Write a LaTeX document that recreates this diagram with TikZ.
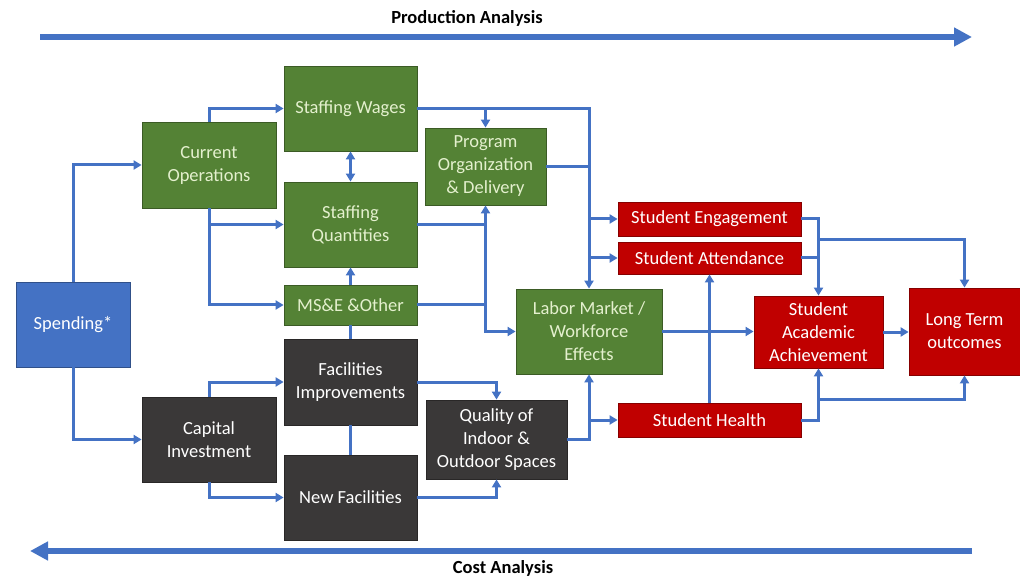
\documentclass[tikz,border=0pt]{standalone}
\usepackage{fontspec}
\setmainfont{Carlito}
\usetikzlibrary{arrows.meta}
\definecolor{cgreen}{RGB}{84,130,53}
\definecolor{gtext}{RGB}{228,240,206}
\definecolor{cdark}{RGB}{58,56,56}
\definecolor{cred}{RGB}{192,0,0}
\definecolor{cblue}{RGB}{68,114,196}
\begin{document}
\begin{tikzpicture}[x=1pt,y=-1pt,
  box/.style={line width=0.8pt, inner sep=2pt, align=center, font=\fontsize{18.5}{23}\selectfont},
  gbox/.style={box, fill=cgreen, draw=cgreen!70!black, text=gtext},
  dbox/.style={box, fill=cdark, draw=cdark!70!black, text=white},
  rbox/.style={box, fill=cred, draw=cred!70!black, text=white},
  bbox/.style={box, fill=cblue, draw=cblue!70!black, text=white},
  conn/.style={draw=cblue, line width=3pt, -{Triangle[length=8pt,width=9pt]}},
  plain/.style={draw=cblue, line width=3pt},
  big/.style={draw=cblue, line width=6pt, -{Triangle[length=18pt,width=18pt]}},
  head/.style={font=\fontsize{18.5}{20}\selectfont\bfseries, text=black}]
\useasboundingbox (0,0) rectangle (1020,577);
\fill[white] (0,0) rectangle (1020,577);
% nodes
\node[bbox, minimum width=114, minimum height=85] (spend) at (73,324.5) {Spending*};
\node[gbox, minimum width=134, minimum height=86] (curop) at (209,165) {Current\\Operations};
\node[gbox, minimum width=133, minimum height=85] (wages) at (350.5,108.5) {Staffing Wages};
\node[gbox, minimum width=133, minimum height=85] (quant) at (350.5,224.5) {Staffing\\Quantities};
\node[gbox, minimum width=133, minimum height=40] (mse) at (350.5,305) {MS\&E \&Other};
\node[gbox, minimum width=121, minimum height=77] (prog) at (485.5,166.5) {Program\\Organization\\\& Delivery};
\node[dbox, minimum width=133, minimum height=86] (facimp) at (350.5,382) {Facilities\\Improvements};
\node[dbox, minimum width=134, minimum height=85] (capinv) at (209,439.5) {Capital\\Investment};
\node[dbox, minimum width=133, minimum height=85] (newfac) at (350.5,497.5) {New Facilities};
\node[dbox, minimum width=141, minimum height=79] (quality) at (496.5,439.5) {Quality of\\Indoor \&\\Outdoor Spaces};
\node[gbox, minimum width=146, minimum height=85] (labor) at (589,331.5) {Labor Market /\\Workforce\\Effects};
\node[rbox, minimum width=183, minimum height=34] (eng) at (709.5,219) {Student Engagement};
\node[rbox, minimum width=183, minimum height=32] (att) at (709.5,258) {Student Attendance};
\node[rbox, minimum width=183, minimum height=34] (health) at (709.5,420) {Student Health};
\node[rbox, minimum width=129, minimum height=72] (saa) at (818.5,332) {Student\\Academic\\Achievement};
\node[rbox, minimum width=111, minimum height=87] (lto) at (964.5,331.5) {Long Term\\outcomes};
% analysis arrows
\coordinate (pa1) at (40,37);
\coordinate (pa2) at (972,37);
\coordinate (ca1) at (972,551);
\coordinate (ca2) at (30,551);
\draw[big] (pa1) -- (pa2);
\draw[big] (ca1) -- (ca2);
\node[head] (ptitle) at (467,18) {Production Analysis};
\node[head] (ctitle) at (503,568) {Cost Analysis};
% connectors
\draw[conn] (spend.north) |- (curop.west);
\draw[conn] (spend.south) |- (capinv.west);
\draw[conn] (curop.north) |- (wages.west);
\draw[conn] (curop.south) |- (quant.west);
\draw[conn] (curop.south) |- (mse.west);
\draw[conn, {Triangle[length=8pt,width=9pt]}-{Triangle[length=8pt,width=9pt]}] (wages.south) -- (quant.north);
\draw[conn] (mse.north) -- (quant.south);
\draw[plain] (mse.south) -- (facimp.north);
\draw[plain] (facimp.south) -- (newfac.north);
\draw[conn] (capinv.north) |- (facimp.west);
\draw[conn] (capinv.south) |- (newfac.west);
\draw[conn] (wages.east) -| (labor.north);
\draw[conn] (wages.east -| prog.north) -- (prog.north);
\draw[plain] (prog.east) -- (prog.east -| labor.north);
\draw[conn] (eng.west -| labor.north) -- (eng.west);
\draw[conn] (att.west -| labor.north) -- (att.west);
\draw[conn] (quant.east) -| (prog.south);
\draw[conn] (quant.east -| prog.south) |- (labor.west);
\draw[plain] (mse.east) -- (mse.east -| prog.south);
\draw[conn] (facimp.east) -| (quality.north);
\draw[conn] (newfac.east) -| (quality.south);
\draw[conn] (quality.east) -| (labor.south);
\draw[conn] (health.west -| labor.south) -- (health.west);
\draw[conn] (labor.east) -- (labor.east -| saa.west);
\draw[conn] (health.north) -- (att.south);
\draw[conn] (eng.east) -| (saa.north);
\draw[plain] (att.east) -- (att.east -| saa.north);
\coordinate (j1) at (818.5,240);
\draw[conn] (j1) -| (lto.north);
\draw[conn] (health.east) -| (saa.south);
\coordinate (j2) at (818.5,399);
\draw[conn] (j2) -| (lto.south);
\draw[conn] (saa.east) -- (saa.east -| lto.west);
\end{tikzpicture}
\end{document}
